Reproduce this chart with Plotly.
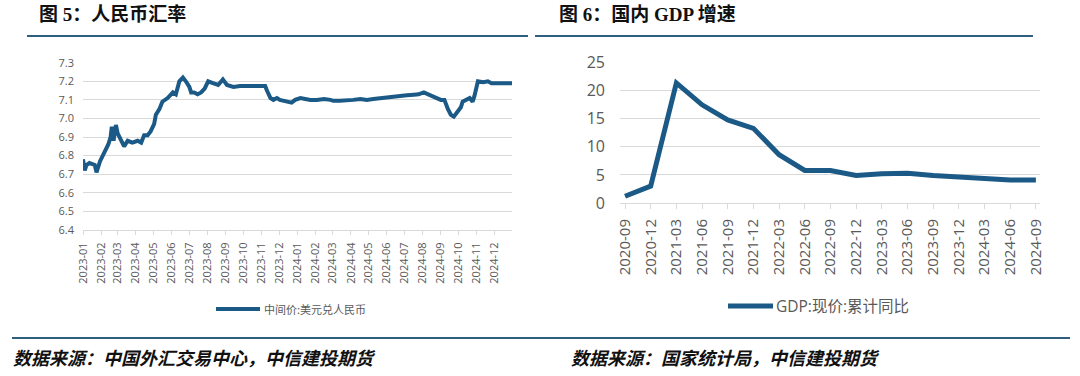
import plotly.graph_objects as go

# ---------------- data ----------------
fx_dates = [
    "2023-01-01", "2023-01-04", "2023-01-07", "2023-01-12", "2023-01-21", "2023-01-24", "2023-01-30",
    "2023-02-07", "2023-02-13", "2023-02-17", "2023-02-19", "2023-02-22", "2023-02-26",
    "2023-03-01", "2023-03-04", "2023-03-08", "2023-03-12", "2023-03-18", "2023-03-26",
    "2023-04-04", "2023-04-10", "2023-04-15", "2023-04-21", "2023-04-26",
    "2023-05-02", "2023-05-05", "2023-05-11", "2023-05-16", "2023-05-25",
    "2023-06-03", "2023-06-08", "2023-06-14", "2023-06-20", "2023-06-25",
    "2023-07-01", "2023-07-04", "2023-07-09", "2023-07-15", "2023-07-21", "2023-07-27",
    "2023-08-02", "2023-08-10", "2023-08-19", "2023-08-27",
    "2023-09-03", "2023-09-14", "2023-09-25", "2023-10-17", "2023-11-07", "2023-11-10",
    "2023-11-16", "2023-11-21", "2023-11-27", "2023-12-02", "2023-12-13", "2023-12-22", "2023-12-28",
    "2024-01-06", "2024-01-14", "2024-01-23", "2024-02-03", "2024-02-15", "2024-02-26",
    "2024-03-02", "2024-03-13", "2024-03-25", "2024-04-05", "2024-04-17", "2024-04-28",
    "2024-05-09", "2024-05-21", "2024-06-01", "2024-06-13", "2024-06-24",
    "2024-07-05", "2024-07-17", "2024-07-25", "2024-08-03", "2024-08-09", "2024-08-21",
    "2024-09-01", "2024-09-07", "2024-09-13", "2024-09-18", "2024-09-23", "2024-09-30",
    "2024-10-05", "2024-10-08", "2024-10-14", "2024-10-20", "2024-10-25", "2024-10-28",
    "2024-11-03", "2024-11-12", "2024-11-20", "2024-11-26", "2024-12-01", "2024-12-13",
    "2024-12-24", "2024-12-31",
]
fx_values = [
    6.78, 6.72, 6.75, 6.76, 6.75, 6.71, 6.77,
    6.82, 6.86, 6.90, 6.955, 6.88, 6.965,
    6.92, 6.90, 6.87, 6.85, 6.88, 6.87,
    6.88, 6.87, 6.91, 6.91, 6.93,
    6.97, 7.02, 7.05, 7.09, 7.11,
    7.14, 7.13, 7.20, 7.22, 7.20,
    7.17, 7.14, 7.14, 7.13, 7.14, 7.16,
    7.20, 7.19, 7.18, 7.21,
    7.18, 7.17, 7.175, 7.175, 7.175, 7.15,
    7.11, 7.10, 7.11, 7.10, 7.09, 7.085, 7.10,
    7.11, 7.105, 7.10, 7.10, 7.105, 7.10,
    7.095, 7.095, 7.095, 7.10, 7.105, 7.10,
    7.105, 7.11, 7.11, 7.115, 7.125,
    7.125, 7.128, 7.13, 7.14, 7.13, 7.115,
    7.10, 7.10, 7.05, 7.02, 7.01, 7.04,
    7.06, 7.09, 7.10, 7.11, 7.09, 7.12,
    7.20, 7.195, 7.20, 7.19, 7.19, 7.19,
    7.19, 7.19,
]

gdp_quarters = [
    "2020-09", "2020-12", "2021-03", "2021-06", "2021-09", "2021-12",
    "2022-03", "2022-06", "2022-09", "2022-12", "2023-03", "2023-06",
    "2023-09", "2023-12", "2024-03", "2024-06", "2024-09",
]
gdp_values = [1.2, 3.0, 21.4, 17.5, 14.8, 13.3, 8.6, 5.8, 5.8, 4.9, 5.2, 5.3, 4.9, 4.6, 4.2, 4.1, 4.1]

fx_name = "中间价:美元兑人民币"
gdp_name = "GDP:现价:累计同比"
title_left = "图 5：人民币汇率"
title_right = "图 6：国内 GDP 增速"
source_left = "数据来源：中国外汇交易中心，中信建投期货"
source_right = "数据来源：国家统计局，中信建投期货"

# ---------------- figure ----------------
W, H = 1080, 376
LINE = "#1b5a86"
GRID = "#d9d9d9"
TICKC = "#595959"
FONT = "Open Sans, Noto Sans CJK SC, sans-serif"
CJK = "Noto Sans CJK SC, sans-serif"


def px(x):
    return x / W


def py(y):
    return 1 - y / H


fig = go.Figure()
fig.add_trace(go.Scatter(x=fx_dates, y=fx_values, mode="lines", name=fx_name,
                         line=dict(color=LINE, width=4), xaxis="x", yaxis="y",
                         showlegend=False))
fig.add_trace(go.Scatter(x=gdp_quarters, y=gdp_values, mode="lines", name=gdp_name,
                         line=dict(color=LINE, width=5), xaxis="x2", yaxis="y2",
                         showlegend=False))

fig.update_layout(
    width=W, height=H, margin=dict(l=0, r=0, t=0, b=0, autoexpand=False),
    paper_bgcolor="white", plot_bgcolor="white",
    font=dict(family=FONT, color=TICKC),
    showlegend=False,
    xaxis=dict(domain=[px(83), px(512)], anchor="y", type="date",
               range=["2023-01-01", "2024-12-31"],
               dtick="M1", tick0="2023-01-01", tickformat="%Y-%m", tickangle=-90,
               ticks="outside", ticklen=4, tickcolor=GRID, automargin=False,
               showline=True, linecolor=GRID, showgrid=False, zeroline=False,
               tickfont=dict(size=11, color=TICKC), ticklabelstandoff=3),
    yaxis=dict(domain=[py(230), py(62.7)], anchor="x", range=[6.4, 7.3], dtick=0.1,
               tickformat=".1f", showgrid=True, gridcolor=GRID, gridwidth=1,
               zeroline=False, showline=False, ticks="", automargin=False,
               tickfont=dict(size=11, color=TICKC), ticklabelstandoff=8),
    xaxis2=dict(domain=[px(620), px(1040)], anchor="y2", type="category",
                range=[-0.195, 16.16], automargin=False,
                tickangle=-90, ticks="outside", ticklen=5, tickcolor=GRID,
                showline=True, linecolor=GRID, showgrid=False, zeroline=False,
                tickfont=dict(size=15, color=TICKC), ticklabelstandoff=4),
    yaxis2=dict(domain=[py(203), py(62.7)], anchor="x2", range=[0, 25], dtick=5,
                showgrid=True, gridcolor=GRID, gridwidth=1, zeroline=False,
                showline=False, ticks="", automargin=False,
                tickfont=dict(size=16, color=TICKC), ticklabelstandoff=14),
)

shapes = []
# header / footer rules
for x0, x1 in [(27, 528), (535, 1033)]:
    shapes.append(dict(type="line", xref="paper", yref="paper",
                       x0=px(x0), x1=px(x1), y0=py(36), y1=py(36),
                       line=dict(color="#2f5e7e", width=2)))
for x0, x1 in [(12, 537), (537, 1070)]:
    shapes.append(dict(type="line", xref="paper", yref="paper",
                       x0=px(x0), x1=px(x1), y0=py(338), y1=py(338),
                       line=dict(color="#2f5e7e", width=2)))
# legend samples
shapes.append(dict(type="line", xref="paper", yref="paper",
                   x0=px(216), x1=px(260), y0=py(309), y1=py(309),
                   line=dict(color=LINE, width=4)))
shapes.append(dict(type="line", xref="paper", yref="paper",
                   x0=px(728), x1=px(773), y0=py(306), y1=py(306),
                   line=dict(color=LINE, width=5)))
fig.update_layout(shapes=shapes)

ann = []
for txt, x in [(title_left, 37), (title_right, 557)]:
    ann.append(dict(text="<b>" + txt + "</b>", xref="paper", yref="paper",
                    x=px(x), y=py(15), xanchor="left", yanchor="middle",
                    showarrow=False,
                    font=dict(family="Liberation Serif, Noto Sans CJK SC, serif",
                              size=19, color="#111111")))
ann.append(dict(text=fx_name, xref="paper", yref="paper", x=px(262), y=py(309),
                xanchor="left", yanchor="middle", showarrow=False,
                font=dict(family=CJK, size=11, color=TICKC)))
ann.append(dict(text=gdp_name, xref="paper", yref="paper", x=px(774), y=py(306),
                xanchor="left", yanchor="middle", showarrow=False,
                font=dict(family=FONT, size=15.5, color=TICKC)))
for txt, x in [(source_left, 11), (source_right, 569)]:
    ann.append(dict(text="<b><i>" + txt + "</i></b>", xref="paper", yref="paper",
                    x=px(x), y=py(357), xanchor="left", yanchor="middle",
                    showarrow=False,
                    font=dict(family=CJK, size=18, color="#111111")))
fig.update_layout(annotations=ann)

fig.write_html("out.html", config={"displayModeBar": False},
               post_script="document.body.style.margin='0';document.body.style.padding='0';")
